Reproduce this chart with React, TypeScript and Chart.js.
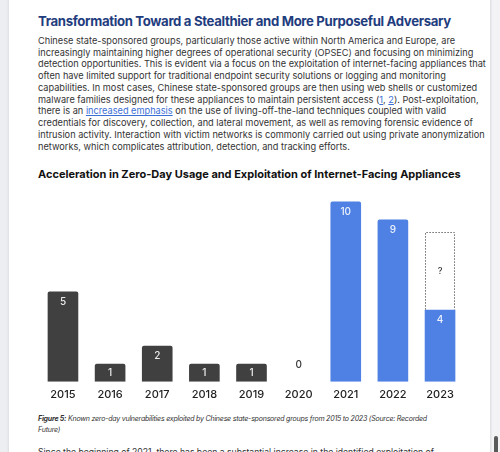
import React, { useEffect, useRef } from "react";
import { Chart, registerables } from "chart.js";

Chart.register(...registerables);

const years = ["2015", "2016", "2017", "2018", "2019", "2020", "2021", "2022", "2023"];
const earlierZeroDays = [5, 1, 2, 1, 1, 0, null, null, null];
const recentZeroDays = [null, null, null, null, null, null, 10, 9, 4];
const unknownRemainder = [null, null, null, null, null, null, null, null, 4.3];
const unknownLabel = "?";

const heading = "Transformation Toward a Stealthier and More Purposeful Adversary";
const chartTitle = "Acceleration in Zero-Day Usage and Exploitation of Internet-Facing Appliances";

const FONT = "Inter, 'Noto Sans', sans-serif";

const labelPlugin = {
  id: "barLabels",
  afterDatasetsDraw(chart: any) {
    const ctx = chart.ctx;
    ctx.save();
    ctx.textAlign = "center";
    ctx.textBaseline = "middle";
    chart.data.datasets.forEach((ds: any, di: number) => {
      const meta = chart.getDatasetMeta(di);
      meta.data.forEach((el: any, i: number) => {
        const v = ds.data[i];
        if (v === null || v === undefined) return;
        const { x, y, base, width } = el.getProps(["x", "y", "base", "width"], true);
        if (ds.kind === "unknown") {
          ctx.strokeStyle = "#6b6b6b";
          ctx.lineWidth = 1;
          ctx.setLineDash([1.5, 1.5]);
          const l = Math.round(x - width / 2) + 0.5;
          const r = Math.round(x + width / 2) - 0.5;
          const t = Math.round(y) + 0.5;
          ctx.beginPath();
          ctx.moveTo(l, base);
          ctx.lineTo(l, t);
          ctx.lineTo(r, t);
          ctx.lineTo(r, base);
          ctx.stroke();
          ctx.setLineDash([]);
          ctx.fillStyle = "#333";
          ctx.font = `500 9px ${FONT}`;
          ctx.fillText(unknownLabel, x, (y + base) / 2);
          return;
        }
        if (v === 0) {
          ctx.fillStyle = "#333";
          ctx.font = `500 10px ${FONT}`;
          ctx.fillText(String(v), x, base - 17);
          return;
        }
        const h = base - y;
        ctx.fillStyle = "rgba(255,255,255,0.9)";
        ctx.font = `500 10px ${FONT}`;
        ctx.fillText(String(v), x, y + Math.min(10.5, h / 2));
      });
    });
    ctx.restore();
  },
};

function ZeroDayChart() {
  const ref = useRef<HTMLCanvasElement>(null);
  useEffect(() => {
    if (!ref.current) return;
    const chart = new Chart(ref.current, {
      type: "bar",
      data: {
        labels: years,
        datasets: [
          {
            label: "2015-2020",
            data: earlierZeroDays,
            backgroundColor: "#404040",
            borderRadius: 2,
            barPercentage: 0.65,
            categoryPercentage: 1,
            kind: "known",
          } as any,
          {
            label: "2021-2023",
            data: recentZeroDays,
            backgroundColor: "#4f80e3",
            borderRadius: 2,
            barPercentage: 0.65,
            categoryPercentage: 1,
            kind: "known",
          } as any,
          {
            label: "Unknown",
            data: unknownRemainder,
            backgroundColor: "rgba(255,255,255,0)",
            borderWidth: 0,
            barPercentage: 0.65,
            categoryPercentage: 1,
            kind: "unknown",
          } as any,
        ],
      },
      options: {
        responsive: false,
        animation: false,
        devicePixelRatio: 1,
        layout: { padding: { left: 39.4, right: 36.4, top: 4.4, bottom: 5 } },
        plugins: { legend: { display: false }, tooltip: { enabled: false }, title: { display: false } },
        scales: {
          x: {
            stacked: true,
            grid: { display: false, drawTicks: false },
            border: { display: false },
            ticks: { color: "#222", padding: 6, font: { family: FONT, size: 11, weight: 500 } },
          },
          y: {
            stacked: true,
            display: false,
            min: 0,
            max: 10.5,
          },
        },
      },
      plugins: [labelPlugin],
    });
    return () => chart.destroy();
  }, []);
  return (
    <canvas
      ref={ref}
      width={500}
      height={224}
      style={{ position: "absolute", left: 0, top: 188, width: 500, height: 224 }}
    />
  );
}

const link: React.CSSProperties = { color: "#3b6fd6", textDecoration: "underline" };

const paraLines: React.ReactNode[] = [
  "Chinese state-sponsored groups, particularly those active within North America and Europe, are",
  "increasingly maintaining higher degrees of operational security (OPSEC) and focusing on minimizing",
  "detection opportunities. This is evident via a focus on the exploitation of internet-facing appliances that",
  "often have limited support for traditional endpoint security solutions or logging and monitoring",
  "capabilities. In most cases, Chinese state-sponsored groups are then using web shells or customized",
  <>
    malware families designed for these appliances to maintain persistent access (<span style={link}>1</span>,{" "}
    <span style={link}>2</span>). Post-exploitation,
  </>,
  <>
    there is an <span style={link}>increased emphasis</span> on the use of living-off-the-land techniques coupled with valid
  </>,
  "credentials for discovery, collection, and lateral movement, as well as removing forensic evidence of",
  "intrusion activity. Interaction with victim networks is commonly carried out using private anonymization",
  "networks, which complicates attribution, detection, and tracking efforts.",
];

export default function App() {
  return (
    <div
      style={{
        position: "fixed",
        left: 0,
        top: 0,
        width: 500,
        height: 452,
        overflow: "hidden",
        background: "#eceef2",
        fontFamily: FONT,
      }}
    >
      <div
        style={{
          position: "absolute",
          left: 9,
          top: -20,
          width: 481,
          height: 500,
          background: "#fff",
          boxShadow: "0 0 3px rgba(0,0,0,0.12)",
        }}
      />
      <div
        style={{
          position: "absolute",
          left: 38,
          top: 10.5,
          whiteSpace: "nowrap",
          fontSize: 13.2,
          letterSpacing: "-0.35px",
          lineHeight: "20px",
          fontWeight: 700,
          color: "#1f3d7e",
        }}
      >
        {heading}
      </div>
      <div
        style={{
          position: "absolute",
          left: 38,
          top: 35,
          whiteSpace: "nowrap",
          fontSize: 9.2,
          lineHeight: "11.73px",
          color: "#333",
        }}
      >
        {paraLines.map((l, i) => (
          <div key={i}>{l}</div>
        ))}
      </div>
      <div
        style={{
          position: "absolute",
          left: 38,
          top: 165.5,
          whiteSpace: "nowrap",
          fontSize: 11,
          lineHeight: "16px",
          fontWeight: 700,
          color: "#111",
        }}
      >
        {chartTitle}
      </div>
      <ZeroDayChart />
      <div
        style={{
          position: "absolute",
          left: 38,
          top: 412.5,
          whiteSpace: "nowrap",
          fontSize: 7.07,
          letterSpacing: "-0.24px",
          lineHeight: "11px",
          fontStyle: "italic",
          color: "#333",
        }}
      >
        <div>
          <b>Figure 5:</b> Known zero-day vulnerabilities exploited by Chinese state-sponsored groups from 2015 to 2023
          (Source: Recorded
        </div>
        <div>Future)</div>
      </div>
      <div
        style={{
          position: "absolute",
          left: 38,
          top: 446,
          whiteSpace: "nowrap",
          fontSize: 8.65,
          lineHeight: "12px",
          color: "#333",
        }}
      >
        Since the beginning of 2021, there has been a substantial increase in the identified exploitation of
      </div>
      <div style={{ position: "absolute", left: 492, top: 0, width: 8, height: 452, background: "#f3f3f5" }} />
      <div
        style={{
          position: "absolute",
          left: 494,
          top: 436,
          width: 3.5,
          height: 30,
          borderRadius: 2,
          background: "#5a5a5a",
        }}
      />
    </div>
  );
}
